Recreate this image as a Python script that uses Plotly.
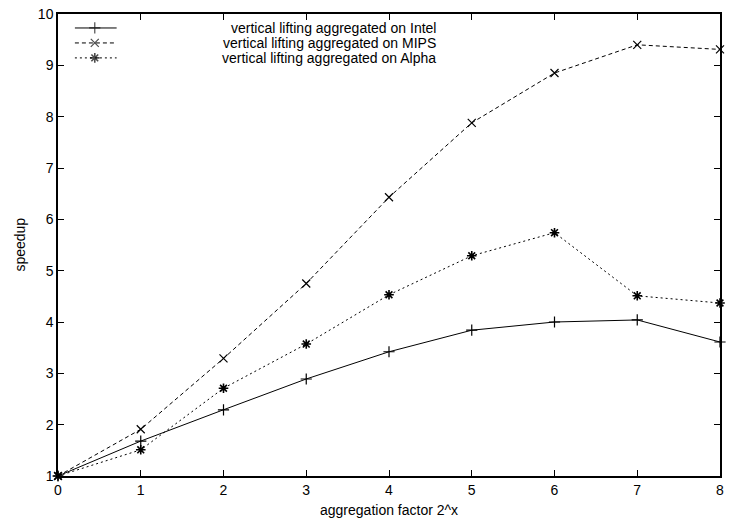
import plotly.graph_objects as go

# aggregation factor exponent (x in 2^x)
agg_exp = [0, 1, 2, 3, 4, 5, 6, 7, 8]

# measured speedups per architecture
speedup_intel = [1.00, 1.68, 2.29, 2.89, 3.42, 3.84, 4.00, 4.04, 3.61]
speedup_mips = [1.00, 1.91, 3.29, 4.75, 6.43, 7.88, 8.85, 9.40, 9.31]
speedup_alpha = [1.00, 1.51, 2.71, 3.57, 4.53, 5.29, 5.74, 4.51, 4.37]

series_names = [
    "vertical lifting aggregated on Intel",
    "vertical lifting aggregated on MIPS",
    "vertical lifting aggregated on Alpha",
]

x_ticks = [0, 1, 2, 3, 4, 5, 6, 7, 8]
y_ticks = [1, 2, 3, 4, 5, 6, 7, 8, 9, 10]

FONT = "Liberation Sans, Arial, Helvetica, sans-serif"
W, H = 730, 525
ML, MR, MT, MB = 58, 6, 13, 49

styles = [
    dict(dash="solid", symbol="cross-thin-open", size=8, lw=1.2),
    dict(dash="4px,3px", symbol="x-thin-open", size=8, lw=1.2),
    dict(dash="2px,3px", symbol="asterisk-open", size=8, lw=1.6),
]
values = [speedup_intel, speedup_mips, speedup_alpha]

fig = go.Figure()

for name, vals, st in zip(series_names, values, styles):
    fig.add_trace(go.Scatter(
        x=agg_exp, y=vals, name=name, mode="lines+markers",
        line=dict(color="black", width=1, dash=st["dash"]),
        marker=dict(symbol=st["symbol"], size=st["size"], color="black",
                    line=dict(color="black", width=st["lw"])),
        cliponaxis=False, showlegend=False,
    ))

# key: line samples drawn on a pixel-scaled overlay axis pair
key_rows = [27, 42, 57]
for name, st, yk in zip(series_names, styles, key_rows):
    fig.add_trace(go.Scatter(
        x=[75, 95, 117], y=[yk, yk, yk], mode="lines+markers",
        xaxis="x2", yaxis="y2",
        line=dict(color="black", width=1, dash=st["dash"]),
        marker=dict(symbol=st["symbol"], size=[0, st["size"], 0], color="black",
                    line=dict(color="black", width=st["lw"])),
        showlegend=False, hoverinfo="skip",
    ))
    fig.add_annotation(
        x=439, y=yk, xref="x2", yref="y2", text=name, showarrow=False,
        xanchor="right", yanchor="middle", borderpad=0,
        font=dict(family=FONT, size=14, color="black"),
    )

axis_common = dict(
    showline=True, linecolor="black", linewidth=1.5, mirror="ticks",
    ticks="inside", ticklen=6, tickwidth=1, tickcolor="black",
    showgrid=False, zeroline=False,
    tickfont=dict(family=FONT, size=14, color="black"),
)

fig.update_layout(
    width=W, height=H,
    margin=dict(l=ML, r=MR, t=MT, b=MB, pad=0),
    paper_bgcolor="white", plot_bgcolor="white",
    xaxis=dict(range=[0, 8], tickvals=x_ticks, **axis_common),
    yaxis=dict(range=[1, 10], tickvals=y_ticks, **axis_common),
    xaxis2=dict(range=[ML, W - MR], overlaying="x", visible=False, fixedrange=True),
    yaxis2=dict(range=[H - MB, MT], overlaying="y", visible=False, fixedrange=True),
    showlegend=False,
)

# axis titles
fig.add_annotation(
    x=0.5, y=-0.052, xref="paper", yref="paper", text="aggregation factor 2^x",
    showarrow=False, xanchor="center", yanchor="top",
    font=dict(family=FONT, size=14, color="black"),
)
fig.add_annotation(
    x=-0.058, y=0.5, xref="paper", yref="paper", text="speedup",
    showarrow=False, textangle=-90, xanchor="center", yanchor="middle",
    font=dict(family=FONT, size=14, color="black"),
)

fig.write_html("out.html")
